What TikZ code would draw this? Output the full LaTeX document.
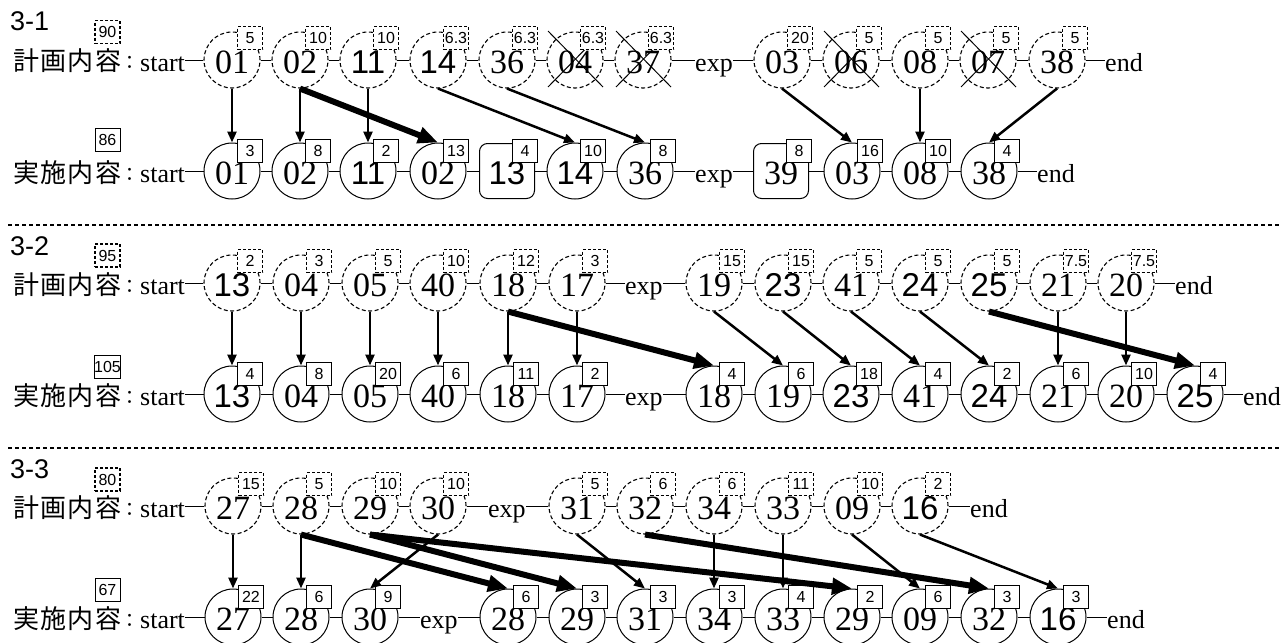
\documentclass[tikz,border=0pt]{standalone}
\usepackage{fontspec}
\setmainfont{Liberation Serif}
\newfontfamily\sansf{Liberation Sans}
\newfontfamily\cjkf[LetterSpace=5]{Noto Sans CJK JP}
\newfontfamily\cjkc{Noto Sans CJK JP}
\usetikzlibrary{arrows.meta}
\newcommand\numf{\fontsize{34}{34}\selectfont}
\newcommand\snum{\sansf\fontsize{33}{33}\selectfont}
\newcommand\tagf{\sansf\fontsize{16}{16}\selectfont}
\newcommand\wordf{\fontsize{26}{26}\selectfont}
\newcommand\secf{\sansf\fontsize{27}{27}\selectfont}
\newcommand\cjkl{\cjkf\fontsize{26}{26}\selectfont}
\newcommand\cjkcol{\cjkc\fontsize{19}{19}\selectfont}
\tikzset{
  every node/.style={inner sep=0pt},
  plan/.style={circle, draw, line width=1.1pt, dash pattern=on 4pt off 2.5pt, minimum size=56pt, font=\numf, text height=26pt, text depth=0pt},
  act/.style={circle, draw, line width=1pt, minimum size=56pt, font=\numf, text height=26pt, text depth=0pt},
  actsq/.style={rectangle, rounded corners=8pt, draw, line width=1pt, minimum size=55pt, font=\numf, text height=26pt, text depth=0pt},
  tagp/.style={draw, fill=white, line width=1.1pt, dash pattern=on 3pt off 2pt, minimum width=25pt, minimum height=23pt, font=\tagf},
  taga/.style={draw, fill=white, line width=1pt, minimum width=25pt, minimum height=23pt, font=\tagf},
  word/.style={anchor=west, font=\wordf, text height=22pt, text depth=0pt},
  conn/.style={line width=0.9pt},
  arr/.style={line width=2.5pt, -{Triangle[length=11pt,width=9pt]}},
  big/.style={line width=6pt, -{Triangle[length=20pt,width=16pt]}},
  sep/.style={line width=1.1pt, dash pattern=on 4pt off 3pt},
  xline/.style={line width=1pt},
  total/.style={minimum width=30pt, minimum height=23pt, font=\tagf, fill=white},
  lab/.style={anchor=base west, font=\cjkl},
  colon/.style={anchor=base, font=\cjkcol}
}
% style, tagstyle, name, x, y, text, tag, tag y offset
\newcommand\nd[8]{\node[#1] (#3) at (#4,#5) {#6};\node[#2] (#3t) at (#4+18,#5-#8) {#7};}
\newcommand\ndx[8]{\node[#1] (#3) at (#4,#5) {#6};
  \draw[xline] (#3.center) ++(-27,-29) -- ++(55,56);
  \draw[xline] (#3.center) ++(-27,27) -- ++(55,-56);
  \node[#2] (#3t) at (#4+18,#5-#8) {#7};}
\begin{document}
\begin{tikzpicture}[x=1pt,y=-1pt]
\useasboundingbox (0,0) rectangle (1286,643);
\fill[white] (0,0) rectangle (1286,643);
% separators
\draw[sep] (8,225) -- (1280,225);
\draw[sep] (8,448) -- (1280,448);
% ===== 3-1 =====
\node[anchor=base west, font=\secf] (l31) at (10,30) {3-1};
\node[total, tagp] (t90) at (107.5,32) {90};
\node[total, taga] (t86) at (107.5,140) {86};
\node[lab] (l1p) at (13,70) {計画内容};
\node[colon] (c1p) at (130,69) {：};
\node[lab] (l1a) at (13,182) {実施内容};
\node[colon] (c1a) at (130,181) {：};
\node[word] (s1p) at (140,60) {start};
\nd{plan}{tagp}{p101}{232}{60}{01}{5}{22}
\nd{plan}{tagp}{p102}{300}{60}{02}{10}{22}
\nd{plan}{tagp}{p111}{368}{60}{\snum 11}{10}{22}
\nd{plan}{tagp}{p114}{438}{60}{\snum 14}{6.3}{22}
\nd{plan}{tagp}{p136}{507}{60}{36}{6.3}{22}
\ndx{plan}{tagp}{p104}{575}{60}{04}{6.3}{22}
\ndx{plan}{tagp}{p137}{643}{60}{37}{6.3}{22}
\node[word] (e1p) at (695,60) {exp};
\nd{plan}{tagp}{p103}{782}{60}{03}{20}{22}
\ndx{plan}{tagp}{p106}{851}{60}{06}{5}{22}
\nd{plan}{tagp}{p108}{920}{60}{08}{5}{22}
\ndx{plan}{tagp}{p107}{988}{60}{07}{5}{22}
\nd{plan}{tagp}{p138}{1057}{60}{38}{5}{22}
\node[word] (n1p) at (1105,60) {end};
\node[word] (s1a) at (140,171) {start};
\nd{act}{taga}{a101}{232}{171}{01}{3}{20}
\nd{act}{taga}{a102}{300}{171}{02}{8}{20}
\nd{act}{taga}{a111}{368}{171}{\snum 11}{2}{20}
\nd{act}{taga}{a102b}{438}{171}{02}{13}{20}
\nd{actsq}{taga}{a113}{507}{171}{\snum 13}{4}{20}
\nd{act}{taga}{a114}{575}{171}{\snum 14}{10}{20}
\nd{act}{taga}{a136}{645}{171}{36}{8}{20}
\node[word] (e1a) at (695,171) {exp};
\nd{actsq}{taga}{a139}{781}{171}{39}{8}{20}
\nd{act}{taga}{a103}{852}{171}{03}{16}{20}
\nd{act}{taga}{a108}{920}{171}{08}{10}{20}
\nd{act}{taga}{a138}{989}{171}{38}{4}{20}
\node[word] (n1a) at (1037,171) {end};
\foreach \a/\b in {s1p/p101,p101/p102,p102/p111,p111/p114,p114/p136,p136/p104,p104/p137,p137/e1p,e1p/p103,p103/p106,p106/p108,p108/p107,p107/p138,p138/n1p,
  s1a/a101,a101/a102,a102/a111,a111/a102b,a102b/a113,a113/a114,a114/a136,a136/e1a,e1a/a139,a139/a103,a103/a108,a108/a138,a138/n1a}
  {\draw[conn] (\a) -- (\b);}
\foreach \a/\b in {p101/a101,p102/a102,p111/a111,p114/a114,p136/a136,p103/a103,p108/a108,p138/a138}
  {\draw[arr] (\a.south) -- (\b.north);}
\draw[big] (p102.south) -- (a102b.north);
% ===== 3-2 =====
\node[anchor=base west, font=\secf] (l32) at (10,255) {3-2};
\node[total, tagp] (t95) at (107.5,255.5) {95};
\node[total, taga] (t105) at (107.5,366.5) {105};
\node[lab] (l2p) at (13,294) {計画内容};
\node[colon] (c2p) at (130,293) {：};
\node[lab] (l2a) at (13,405) {実施内容};
\node[colon] (c2a) at (130,404) {：};
\node[word] (s2p) at (140,283) {start};
\nd{plan}{tagp}{p213}{232}{283}{\snum 13}{2}{22}
\nd{plan}{tagp}{p204}{301}{283}{04}{3}{22}
\nd{plan}{tagp}{p205}{370}{283}{05}{5}{22}
\nd{plan}{tagp}{p240}{438}{283}{40}{10}{22}
\nd{plan}{tagp}{p218}{508}{283}{18}{12}{22}
\nd{plan}{tagp}{p217}{577}{283}{17}{3}{22}
\node[word] (e2p) at (625,283) {exp};
\nd{plan}{tagp}{p219}{714}{283}{19}{15}{22}
\nd{plan}{tagp}{p223}{783}{283}{\snum 23}{15}{22}
\nd{plan}{tagp}{p241}{851}{283}{41}{5}{22}
\nd{plan}{tagp}{p224}{920}{283}{\snum 24}{5}{22}
\nd{plan}{tagp}{p225}{989}{283}{\snum 25}{5}{22}
\nd{plan}{tagp}{p221}{1058}{283}{21}{7.5}{22}
\nd{plan}{tagp}{p220}{1126}{283}{20}{7.5}{22}
\node[word] (n2p) at (1175,283) {end};
\node[word] (s2a) at (140,394) {start};
\nd{act}{taga}{a213}{232}{394}{\snum 13}{4}{20}
\nd{act}{taga}{a204}{301}{394}{04}{8}{20}
\nd{act}{taga}{a205}{370}{394}{05}{20}{20}
\nd{act}{taga}{a240}{438}{394}{40}{6}{20}
\nd{act}{taga}{a218}{508}{394}{18}{11}{20}
\nd{act}{taga}{a217}{577}{394}{17}{2}{20}
\node[word] (e2a) at (625,394) {exp};
\nd{act}{taga}{a218b}{714}{394}{18}{4}{20}
\nd{act}{taga}{a219}{783}{394}{19}{6}{20}
\nd{act}{taga}{a223}{851}{394}{\snum 23}{18}{20}
\nd{act}{taga}{a241}{920}{394}{41}{4}{20}
\nd{act}{taga}{a224}{989}{394}{\snum 24}{2}{20}
\nd{act}{taga}{a221}{1058}{394}{21}{6}{20}
\nd{act}{taga}{a220}{1126}{394}{20}{10}{20}
\nd{act}{taga}{a225}{1195}{394}{\snum 25}{4}{20}
\node[word] (n2a) at (1243,394) {end};
\foreach \a/\b in {s2p/p213,p213/p204,p204/p205,p205/p240,p240/p218,p218/p217,p217/e2p,e2p/p219,p219/p223,p223/p241,p241/p224,p224/p225,p225/p221,p221/p220,p220/n2p,
  s2a/a213,a213/a204,a204/a205,a205/a240,a240/a218,a218/a217,a217/e2a,e2a/a218b,a218b/a219,a219/a223,a223/a241,a241/a224,a224/a221,a221/a220,a220/a225,a225/n2a}
  {\draw[conn] (\a) -- (\b);}
\foreach \a/\b in {p213/a213,p204/a204,p205/a205,p240/a240,p218/a218,p217/a217,p219/a219,p223/a223,p241/a241,p224/a224,p221/a221,p220/a220}
  {\draw[arr] (\a.south) -- (\b.north);}
\draw[big] (p218.south) -- (a218b.north);
\draw[big] (p225.south) -- (a225.north);
% ===== 3-3 =====
\node[anchor=base west, font=\secf] (l33) at (10,478) {3-3};
\node[total, tagp] (t80) at (107.5,479.5) {80};
\node[total, taga] (t67) at (107.5,590) {67};
\node[lab] (l3p) at (13,517) {計画内容};
\node[colon] (c3p) at (130,516) {：};
\node[lab] (l3a) at (13,628) {実施内容};
\node[colon] (c3a) at (130,627) {：};
\node[word] (s3p) at (140,506) {start};
\nd{plan}{tagp}{p327}{233}{506}{27}{15}{22}
\nd{plan}{tagp}{p328}{301}{506}{28}{5}{22}
\nd{plan}{tagp}{p329}{370}{506}{29}{10}{22}
\nd{plan}{tagp}{p330}{438}{506}{30}{10}{22}
\node[word] (e3p) at (488,506) {exp};
\nd{plan}{tagp}{p331}{577}{506}{31}{5}{22}
\nd{plan}{tagp}{p332}{645}{506}{32}{6}{22}
\nd{plan}{tagp}{p334}{714}{506}{34}{6}{22}
\nd{plan}{tagp}{p333}{783}{506}{33}{11}{22}
\nd{plan}{tagp}{p309}{852}{506}{09}{10}{22}
\nd{plan}{tagp}{p316}{920}{506}{\snum 16}{2}{22}
\node[word] (n3p) at (970,506) {end};
\node[word] (s3a) at (140,617) {start};
\nd{act}{taga}{a327}{233}{617}{27}{22}{20}
\nd{act}{taga}{a328}{301}{617}{28}{6}{20}
\nd{act}{taga}{a330}{370}{617}{30}{9}{20}
\node[word] (e3a) at (420,617) {exp};
\nd{act}{taga}{a328b}{508}{617}{28}{6}{20}
\nd{act}{taga}{a329}{577}{617}{29}{3}{20}
\nd{act}{taga}{a331}{645}{617}{31}{3}{20}
\nd{act}{taga}{a334}{714}{617}{34}{3}{20}
\nd{act}{taga}{a333}{783}{617}{33}{4}{20}
\nd{act}{taga}{a329b}{852}{617}{29}{2}{20}
\nd{act}{taga}{a309}{920}{617}{09}{6}{20}
\nd{act}{taga}{a332}{989}{617}{32}{3}{20}
\nd{act}{taga}{a316}{1058}{617}{\snum 16}{3}{20}
\node[word] (n3a) at (1107,617) {end};
\foreach \a/\b in {s3p/p327,p327/p328,p328/p329,p329/p330,p330/e3p,e3p/p331,p331/p332,p332/p334,p334/p333,p333/p309,p309/p316,p316/n3p,
  s3a/a327,a327/a328,a328/a330,a330/e3a,e3a/a328b,a328b/a329,a329/a331,a331/a334,a334/a333,a333/a329b,a329b/a309,a309/a332,a332/a316,a316/n3a}
  {\draw[conn] (\a) -- (\b);}
\foreach \a/\b in {p327/a327,p328/a328,p330/a330,p331/a331,p334/a334,p333/a333,p309/a309,p316/a316}
  {\draw[arr] (\a.south) -- (\b.north);}
\draw[big] (p328.south) -- (a328b.north);
\draw[big] (p329.south) -- (a329.north);
\draw[big] (p329.south) -- (a329b.north);
\draw[big] (p332.south) -- (a332.north);
\end{tikzpicture}
\end{document}
